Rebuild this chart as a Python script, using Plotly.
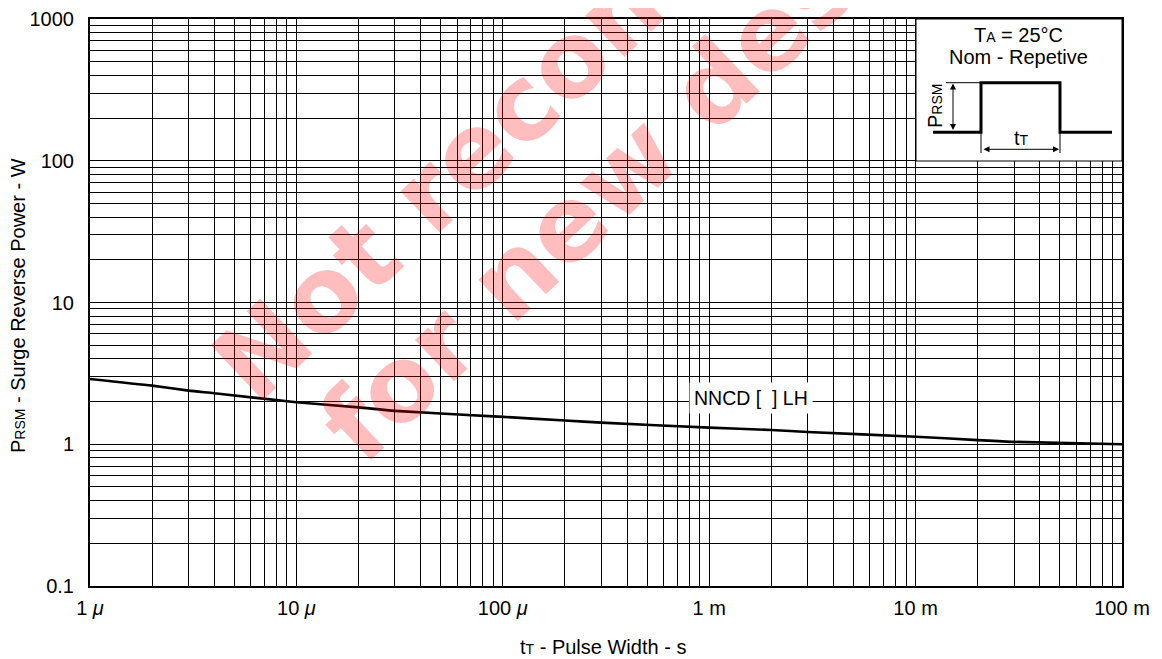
import plotly.graph_objects as go

# ---- data ----
pulse_width_s = [1e-6, 2e-6, 3e-6, 4e-6, 1e-5, 2e-5, 3e-5, 1e-4, 2e-4, 3e-4,
                 1e-3, 2e-3, 3e-3, 1e-2, 2e-2, 3e-2, 1e-1]
surge_power_w = [2.89, 2.59, 2.39, 2.29, 1.98, 1.82, 1.72, 1.56, 1.47, 1.42,
                 1.31, 1.26, 1.22, 1.13, 1.07, 1.04, 1.00]
series_name = "NNCD [ ] LH"

x_tick_vals = [1e-6, 1e-5, 1e-4, 1e-3, 1e-2, 1e-1]
x_tick_text = ["1 <i>μ</i>", "10 <i>μ</i>", "100 <i>μ</i>", "1 m", "10 m", "100 m"]
y_tick_vals = [0.1, 1, 10, 100, 1000]
y_tick_text = ["0.1", "1", "10", "100", "1000"]

FONT = "Liberation Sans, Arial, sans-serif"
WM_FONT = "DejaVu Sans, sans-serif"
# page offset (default body margin of the html page)
OFF = 8
# plot area in window pixels
PL, PR, PT, PB = 90, 1122, 19, 586
W, H = 1162 - OFF, 659 - OFF
PW, PH = PR - PL, PB - PT


def px(x):
    return (x - PL) / PW


def py(y):
    return (PB - y) / PH


def minor_vals(lo, hi):
    out = []
    for e in range(lo, hi):
        for m in range(2, 10):
            out.append(m * 10 ** e)
    return out


fig = go.Figure()
fig.add_trace(go.Scatter(
    x=pulse_width_s, y=surge_power_w, mode="lines", name=series_name,
    line=dict(color="black", width=2.6, shape="spline", smoothing=0.6),
    showlegend=False, hoverinfo="skip"))

axis_common = dict(
    type="log", showgrid=True, gridcolor="black", gridwidth=1,
    showline=True, linecolor="black", linewidth=2, mirror=True,
    ticks="", zeroline=False, tickmode="array", automargin=False,
    tickfont=dict(family=FONT, size=20, color="black"),
)

fig.update_xaxes(**axis_common, range=[-6, -1], tickvals=x_tick_vals,
                 ticktext=x_tick_text, ticklabelstandoff=3,
                 minor=dict(tickmode="array", tickvals=minor_vals(-6, -1),
                            showgrid=True, gridcolor="black", gridwidth=1, ticks=""))
fig.update_yaxes(**axis_common, range=[-1, 3], tickvals=y_tick_vals,
                 ticktext=y_tick_text, ticklabelstandoff=10,
                 minor=dict(tickmode="array", tickvals=minor_vals(-1, 3),
                            showgrid=True, gridcolor="black", gridwidth=1, ticks=""))

shapes = []
# inset box
shapes.append(dict(type="rect", xref="paper", yref="paper", x0=px(916), x1=1.0,
                   y0=py(161), y1=1.0, fillcolor="white",
                   line=dict(color="black", width=1), layer="above"))
# pulse waveform
pts = [(933, 132.3), (981, 132.3), (981, 82.7), (1060, 82.7), (1060, 132.3), (1112, 132.3)]
path = "M " + " L ".join(f"{px(a):.5f},{py(b):.5f}" for a, b in pts)
shapes.append(dict(type="path", xref="paper", yref="paper", path=path,
                   line=dict(color="black", width=3)))
# extension lines
shapes.append(dict(type="line", xref="paper", yref="paper", x0=px(946), x1=px(981),
                   y0=py(82.7), y1=py(82.7), line=dict(color="black", width=1)))
shapes.append(dict(type="line", xref="paper", yref="paper", x0=px(981), x1=px(981),
                   y0=py(133), y1=py(153), line=dict(color="black", width=1)))
shapes.append(dict(type="line", xref="paper", yref="paper", x0=px(1060), x1=px(1060),
                   y0=py(133), y1=py(153), line=dict(color="black", width=1)))

C = dict(xanchor="center", yanchor="middle", xref="paper", yref="paper")
ann = []
# watermark
wm = "rgba(255,0,0,0.26)"
ann.append(dict(text="<b>Not recommended</b>", x=px(623), y=py(9), showarrow=False,
                textangle=-43.5, font=dict(family=WM_FONT, size=104, color=wm), **C))
ann.append(dict(text="<b>for new designs</b>", x=px(677), y=py(120), showarrow=False,
                textangle=-43.5, font=dict(family=WM_FONT, size=104, color=wm), **C))
# axis titles
ann.append(dict(text="P<span style='font-size:14px'>RSM</span> - Surge Reverse Power - W",
                x=px(18), y=py(306), showarrow=False, textangle=-90,
                font=dict(family=FONT, size=20, color="black"), **C))
ann.append(dict(text="t<span style='font-size:14px'>T</span> - Pulse Width - s",
                x=px(603), y=py(647), showarrow=False,
                font=dict(family=FONT, size=20, color="black"), **C))
# series label
ann.append(dict(text="NNCD [\u00a0 ] LH", x=px(751), y=py(398),
                showarrow=False, bgcolor="white", borderpad=4,
                font=dict(family=FONT, size=19.5, color="black"), **C))
# inset texts
ann.append(dict(text="T<span style='font-size:14px'>A</span> = 25°C",
                x=px(1018), y=py(35), showarrow=False,
                font=dict(family=FONT, size=20, color="black"), **C))
ann.append(dict(text="Nom - Repetive", x=px(1018), y=py(57), showarrow=False,
                font=dict(family=FONT, size=20, color="black"), **C))
ann.append(dict(text="P<span style='font-size:14px'>RSM</span>",
                x=px(935), y=py(106), showarrow=False, textangle=-90,
                font=dict(family=FONT, size=20, color="black"), **C))
ann.append(dict(text="t<span style='font-size:14px'>T</span>",
                x=px(1021), y=py(138), showarrow=False,
                font=dict(family=FONT, size=20, color="black"), **C))
# dimension arrows
ann.append(dict(text="", x=px(953), y=py(83.5), ax=0, ay=48, showarrow=True,
                arrowside="end+start", arrowhead=2, arrowsize=1.2, arrowwidth=1,
                arrowcolor="black", **C))
ann.append(dict(text="", x=px(1059), y=py(149.3), ax=-77, ay=0, showarrow=True,
                arrowside="end+start", arrowhead=2, arrowsize=1.2, arrowwidth=1,
                arrowcolor="black", **C))

fig.update_layout(width=W, height=H, autosize=False,
                  margin=dict(l=PL - OFF, r=W - (PR - OFF), t=PT - OFF,
                              b=H - (PB - OFF), autoexpand=False),
                  paper_bgcolor="white", plot_bgcolor="white",
                  shapes=shapes, annotations=ann,
                  font=dict(family=FONT, size=20, color="black"))

fig.write_html("out.html")
